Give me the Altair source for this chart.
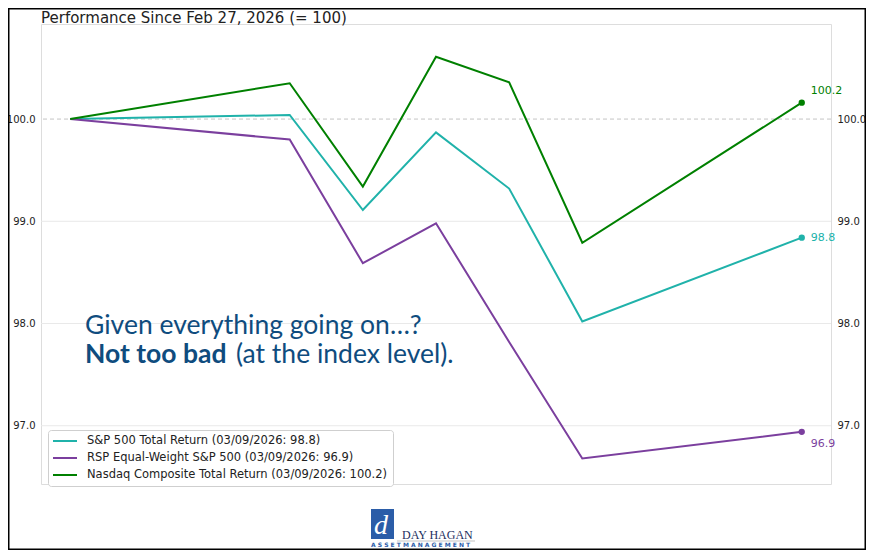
import altair as alt
import pandas as pd

# ---------------- data ----------------
day_offsets = [0, 3, 4, 5, 6, 7, 10]          # days since 02/27
tick_labels = ["02/27", "02/28", "03/01", "03/02", "03/03", "03/04",
               "03/05", "03/06", "03/07", "03/08", "03/09"]
sp500 = [100.0, 100.04, 99.11, 99.87, 99.32, 98.02, 98.84]
rsp = [100.0, 99.80, 98.59, 98.98, 97.82, 96.68, 96.94]
nasdaq = [100.0, 100.35, 99.34, 100.61, 100.36, 98.79, 100.16]

series_names = ["S&P 500 Total Return", "RSP Equal-Weight S&P 500",
                "Nasdaq Composite Total Return"]
series_values = [sp500, rsp, nasdaq]
series_colors = ["#20B2AA", "#7B3F9E", "#008000"]
end_label_dy = [0, 12, -12]
last_date = "03/09/2026"
grid_values = [97, 98, 99]
ref_value = [100]

title_text = "Performance Since Feb 27, 2026 (= 100)"
note_line1 = "Given everything going on\u2026?"
note_bold = "Not too bad"
note_rest = "(at the index level)."

# ---------------- tables ----------------
rows, ends = [], []
legend_names = []
for name, vals, col, dy in zip(series_names, series_values, series_colors, end_label_dy):
    label = f"{name} ({last_date}: {vals[-1]:.1f})"
    legend_names.append(label)
    for d, v in zip(day_offsets, vals):
        rows.append({"day": d, "value": v, "series": label})
    ends.append({"day": day_offsets[-1], "value": vals[-1], "color": col,
                 "txt": f"{vals[-1]:.1f}", "dy": dy})
df = pd.DataFrame(rows)
df_end = pd.DataFrame(ends)

W, H = 790, 460
xscale = alt.Scale(domain=[-0.4, 10.4], nice=False, zero=False)
yscale = alt.Scale(domain=[96.43, 100.93], nice=False, zero=False)
label_js = "[" + ",".join(f"'{t}'" for t in tick_labels) + "]"

# grid lines
grid = alt.Chart(pd.DataFrame({"g": grid_values})).mark_rule(
    color="#e9e9e9", strokeWidth=1
).encode(y=alt.Y("g:Q", scale=yscale, axis=None))

# dashed reference line, carries the right axis
ref = alt.Chart(pd.DataFrame({"r": ref_value})).mark_rule(
    color="#c4c4c4", strokeWidth=1, strokeDash=[4, 3]
).encode(
    y=alt.Y("r:Q", scale=yscale,
            axis=alt.Axis(orient="right", values=[97, 98, 99, 100], format=".1f",
                          tickSize=0, domain=False, grid=False, labelPadding=6,
                          labelFontSize=10, labelColor="#222", title=None))
)

lines = alt.Chart(df).mark_line(strokeWidth=2).encode(
    x=alt.X("day:Q", scale=xscale,
            axis=alt.Axis(values=list(range(len(tick_labels))),
                          labelExpr=f"{label_js}[datum.value]",
                          tickSize=4, tickColor="#333", domain=False, grid=False,
                          labelPadding=4, labelFontSize=10, labelColor="#222",
                          title=None)),
    y=alt.Y("value:Q", scale=yscale,
            axis=alt.Axis(orient="left", values=[97, 98, 99, 100], format=".1f",
                          tickSize=0, domain=False, grid=False, labelPadding=6,
                          labelFontSize=10, labelColor="#222", title=None)),
    color=alt.Color("series:N",
                    scale=alt.Scale(domain=legend_names, range=series_colors),
                    sort=legend_names,
                    legend=alt.Legend(orient="none", legendX=7, legendY=406,
                                      title=None, labelFontSize=11.5,
                                      labelColor="#222", labelFont="DejaVu Sans",
                                      labelLimit=500,
                                      symbolType="M-2.4,0H2.4", symbolSize=100,
                                      symbolStrokeWidth=2, symbolOffset=6,
                                      labelOffset=16, rowPadding=5, padding=5,
                                      fillColor="white", strokeColor="#cfcfcf",
                                      cornerRadius=3)),
)

pts = alt.Chart(df_end).mark_circle(size=40, opacity=1).encode(
    x=alt.X("day:Q", scale=xscale, axis=None),
    y=alt.Y("value:Q", scale=yscale, axis=None),
    color=alt.Color("color:N", scale=None),
)

end_labels = []
for i in range(len(ends)):
    end_labels.append(
        alt.Chart(df_end.iloc[[i]]).mark_text(
            align="left", baseline="middle", dx=9, dy=ends[i]["dy"],
            fontSize=11, font="DejaVu Sans"
        ).encode(
            x=alt.X("day:Q", scale=xscale, axis=None),
            y=alt.Y("value:Q", scale=yscale, axis=None),
            text="txt:N",
            color=alt.Color("color:N", scale=None),
        )
    )

def txt(s, x, y, **kw):
    return alt.Chart(pd.DataFrame({"t": [s]})).mark_text(
        align="left", baseline="middle", **kw
    ).encode(text="t:N", x=alt.value(x), y=alt.value(y))

title = txt(title_text, 0, -6, font="DejaVu Sans", fontSize=15, color="#222")

note_color = "#0F4C7E"
note1 = txt(note_line1, 44, 302, font="Lato", fontSize=26.5, color=note_color)
note2 = txt(note_bold, 44, 331, font="Lato", fontSize=26.5, fontWeight="bold", color=note_color)
note3 = txt(note_rest, 195, 331, font="Lato", fontSize=26.5, color=note_color)

# logo
icon = alt.Chart(pd.DataFrame({"a": [0]})).mark_rect(color="#2B5DA8").encode(
    x=alt.value(330), x2=alt.value(353), y=alt.value(485), y2=alt.value(515))
icon_d = txt("d", 333, 502, font="Liberation Serif", fontSize=28,
             fontStyle="italic", color="white")
brand = txt("DAY HAGAN", 361, 511, font="Liberation Serif", fontSize=12, color="#1C2E5E")
brand_line = alt.Chart(pd.DataFrame({"a": [0]})).mark_rule(color="#aaaaaa", strokeWidth=0.7).encode(
    x=alt.value(356), x2=alt.value(434), y=alt.value(517))
brand_sub = txt("A S S E T   M A N A G E M E N T", 330, 521, font="DejaVu Sans",
                fontSize=6, fontWeight="bold", color="#2B5DA8")

frame = alt.Chart(pd.DataFrame({"a": [0]})).mark_rect(
    fill=None, fillOpacity=0, stroke="black", strokeWidth=3
).encode(x=alt.value(-33), x2=alt.value(825), y=alt.value(-16), y2=alt.value(526))

chart = alt.layer(
    grid, ref, lines, pts, *end_labels, title, note1, note2, note3,
    icon, icon_d, brand, brand_line, brand_sub, frame
).resolve_axis(y="independent").properties(
    width=W, height=H,
    autosize=alt.AutoSizeParams(type="none"),
    padding={"left": 33, "top": 16, "right": 35, "bottom": 66},
).configure_view(stroke="#555", strokeWidth=1).configure(font="DejaVu Sans")

chart.save("out.html", embed_options={"renderer": "svg", "actions": False})
